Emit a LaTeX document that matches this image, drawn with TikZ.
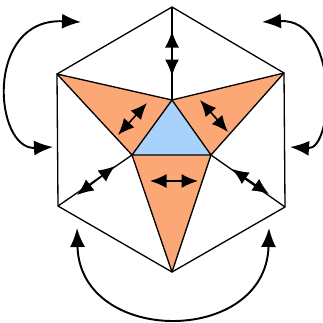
\documentclass[tikz,border=0pt]{standalone}
\usetikzlibrary{arrows.meta}
\definecolor{petal}{RGB}{252,168,118}
\definecolor{core}{RGB}{168,210,252}
\tikzset{
  rimline/.style={line width=0.75pt, line join=round},
  swaparrow/.style={{Latex[length=3.3mm,width=2.8mm]}-{Latex[length=3.3mm,width=2.8mm]}, line width=0.9pt},
  turnarrow/.style={{Latex[length=3.8mm,width=3mm]}-{Latex[length=3.8mm,width=3mm]}, line width=1.1pt}
}

\begin{document}
\begin{tikzpicture}[x=0.02cm, y=-0.02cm]
  \useasboundingbox (0,0) rectangle (323,322);
  % hexagon corners
  \coordinate (hT) at (172,7);
  \coordinate (hUR) at (284,73);
  \coordinate (hLR) at (285,207);
  \coordinate (hB) at (172,272);
  \coordinate (hLL) at (58,206);
  \coordinate (hUL) at (57,74);
  % inner triangle
  \coordinate (cT) at (172,100);
  \coordinate (cL) at (132,155);
  \coordinate (cR) at (211,155);

  \fill[petal] (hUL) -- (cT) -- (cL) -- cycle;
  \fill[petal] (hUR) -- (cT) -- (cR) -- cycle;
  \fill[petal] (cL) -- (cR) -- (hB) -- cycle;
  \fill[core] (cT) -- (cL) -- (cR) -- cycle;

  \draw[rimline] (hT) -- (hUR) -- (hLR) -- (hB) -- (hLL) -- (hUL) -- cycle;
  \draw[rimline] (cT) -- (cL) -- (cR) -- cycle;
  \draw[rimline] (hUL) -- (cT) -- (hUR) -- (cR) -- (hB) -- (cL) -- cycle;
  \draw[rimline] (hT) -- (cT);
  \draw[rimline] (hLL) -- (cL);
  \draw[rimline] (hLR) -- (cR);

  % swap arrows
  \coordinate (v1) at (172,31);   \coordinate (v2) at (172,76);
  \coordinate (pl1) at (118,135); \coordinate (pl2) at (147,103);
  \coordinate (pr1) at (200,100); \coordinate (pr2) at (228,132);
  \coordinate (pb1) at (150,181); \coordinate (pb2) at (198,181);
  \coordinate (sl1) at (77,195);  \coordinate (sl2) at (115,166);
  \coordinate (sr1) at (232,169); \coordinate (sr2) at (269,194);
  \draw[swaparrow] (v1) -- (v2);
  \draw[swaparrow] (pl1) -- (pl2);
  \draw[swaparrow] (pr1) -- (pr2);
  \draw[swaparrow] (pb1) -- (pb2);
  \draw[swaparrow] (sl1) -- (sl2);
  \draw[swaparrow] (sr1) -- (sr2);

  % turn arrows
  \coordinate (tl1) at (81,22);  \coordinate (tl2) at (53,147);
  \coordinate (tr1) at (262,22); \coordinate (tr2) at (290,147);
  \coordinate (tb1) at (77,228); \coordinate (tb2) at (269,228);
  \draw[turnarrow] (tl1) .. controls (-16,18) and (-6,150) .. (tl2);
  \draw[turnarrow] (tr1) .. controls (340,18) and (334,150) .. (tr2);
  \draw[turnarrow] (tb1) .. controls (80,346) and (266,346) .. (tb2);
\end{tikzpicture}
\end{document}
